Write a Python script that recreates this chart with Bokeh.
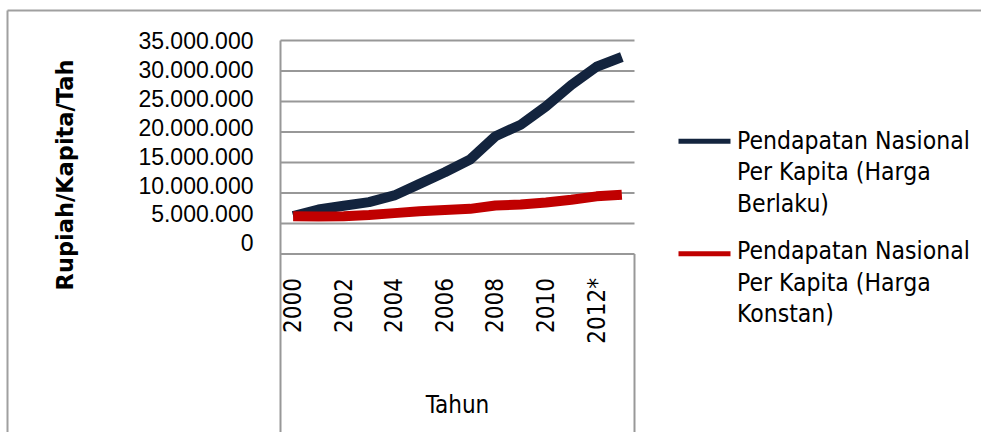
import math
from bokeh.plotting import figure
from bokeh.models import Range1d, LinearAxis, FixedTicker
from bokeh.core.properties import value
from bokeh.embed import file_html
from bokeh.resources import INLINE

# ---------------- data ----------------
years = ["2000", "2001", "2002", "2003", "2004", "2005", "2006",
         "2007", "2008", "2009", "2010", "2011", "2012*", "2013*"]
# Pendapatan Nasional per kapita, juta rupiah
harga_berlaku = [6.2, 7.3, 7.9, 8.5, 9.6, 11.5, 13.4, 15.5, 19.3, 21.2, 24.2, 27.7, 30.7, 32.3]
harga_konstan = [6.2, 6.15, 6.2, 6.4, 6.7, 7.0, 7.2, 7.4, 7.95, 8.1, 8.45, 8.9, 9.45, 9.7]
y_ticks = [0, 5000000, 10000000, 15000000, 20000000, 25000000, 30000000, 35000000]
y_tick_labels = ["0", "5.000.000", "10.000.000", "15.000.000", "20.000.000",
                 "25.000.000", "30.000.000", "35.000.000"]
series_labels = [["Pendapatan Nasional", "Per Kapita (Harga", "Berlaku)"],
                 ["Pendapatan Nasional", "Per Kapita (Harga", "Konstan)"]]
y_title = "Rupiah/Kapita/Tah"
x_title = "Tahun"
colors = ["#13243e", "#c00000"]

# ---------------- layout (image pixels) ----------------
OX, OY = 0, 0           # canvas origin in the picture
W, H = 981, 432
FL, FT = 280, 40        # plot-area left / top
ZERO_Y = 253.5          # y of value 0
PX_PER_M = 6.1          # px per 1 000 000
LAB_ZERO_Y = 242.3      # y of tick label "0"
LAB_PX_PER_M = 5.78
n = len(years)
PX_PER_CAT = 354.0 / n


def dx(px):
    return -0.5 + (px - FL) / PX_PER_CAT


def dy(py):
    return (ZERO_Y - py) / PX_PER_M * 1e6


def ly(py):
    return (LAB_ZERO_Y - py) / LAB_PX_PER_M * 1e6


p = figure(width=W, height=H, output_backend="svg", toolbar_location=None,
           x_range=Range1d(dx(OX), dx(OX + W)), y_range=Range1d(dy(OY + H), dy(OY)),
           x_axis_location=None, y_axis_location=None,
           min_border_left=0, min_border_top=0, min_border_right=0, min_border_bottom=0)
p.outline_line_color = None
for g in p.grid:
    g.visible = False
p.background_fill_color = "white"
p.border_fill_color = "white"

idx = list(range(n))
GRID = "#989898"
BORDER = "#a0a0a0"

# outer chart border (top / left)
p.segment(x0=[dx(7)], y0=[dy(10)], x1=[dx(OX + W)], y1=[dy(10)], line_color=BORDER, line_width=2)
p.segment(x0=[dx(7)], y0=[dy(10)], x1=[dx(7)], y1=[dy(OY + H)], line_color=BORDER, line_width=2)

# gridlines (plot area only)
p.segment(x0=[-0.5] * len(y_ticks), y0=y_ticks, x1=[n - 0.5] * len(y_ticks), y1=y_ticks,
          line_color=GRID, line_width=2)
# category-axis box right edge
p.segment(x0=[n - 0.5], y0=[dy(OY + H)], x1=[n - 0.5], y1=[0], line_color=GRID, line_width=2)

# series
p.line(idx, [v * 1e6 for v in harga_berlaku], line_color=colors[0], line_width=10,
       line_join="round", line_cap="butt")
p.line(idx, [v * 1e6 for v in harga_konstan], line_color=colors[1], line_width=10,
       line_join="round", line_cap="butt")

# y label axis (offset labels as in original), line from top of plot to bottom
p.extra_y_ranges = {"lab": Range1d(ly(OY + H), ly(OY))}
yaxis = LinearAxis(y_range_name="lab", fixed_location=-0.5,
                   bounds=(ly(OY + H), y_ticks[-1]),
                   ticker=FixedTicker(ticks=y_ticks, minor_ticks=[]),
                   major_label_overrides=dict(zip(y_ticks, y_tick_labels)),
                   axis_line_color=GRID, axis_line_width=2,
                   major_tick_line_color=None, minor_tick_line_color=None,
                   major_tick_out=0, major_tick_in=0, major_label_standoff=27,
                   major_label_text_font="Liberation Sans",
                   major_label_text_font_size="23px", major_label_text_color="black")
p.add_layout(yaxis, "left")

# x axis at value 0
shown = idx[::2]
xaxis = LinearAxis(fixed_location=0, ticker=FixedTicker(ticks=shown, minor_ticks=[]),
                   major_label_overrides={i: years[i] for i in shown},
                   major_label_orientation=math.pi / 2,
                   axis_line_color=None, major_tick_line_color=None,
                   minor_tick_line_color=None, major_tick_out=0, major_tick_in=0,
                   major_label_standoff=24,
                   major_label_text_font="DejaVu Sans Condensed",
                   major_label_text_font_size="24px", major_label_text_color="black")
p.add_layout(xaxis, "below")

# axis titles
p.text(x=[dx(64)], y=[dy(174.5)], text=[y_title], angle=math.pi / 2,
       text_align="center", text_baseline="middle",
       text_font=value("DejaVu Sans"), text_font_style="bold",
       text_font_size=value("22.5px"), text_color="black")
p.text(x=[(n - 1) / 2], y=[dy(404)], text=[x_title], text_align="center",
       text_baseline="middle", text_font=value("DejaVu Sans Condensed"),
       text_font_size=value("24px"), text_color="black")

# legend
sw_y = [140.7, 253.3]
row0 = [139.5, 250.0]   # vertical centre of first text row
for k in range(2):
    p.segment(x0=[dx(678)], y0=[dy(sw_y[k])], x1=[dx(730)], y1=[dy(sw_y[k])],
              line_color=colors[k], line_width=5)
    lines = series_labels[k]
    p.text(x=[dx(736.5)] * len(lines),
           y=[dy(row0[k] + 31.7 * j) for j in range(len(lines))],
           text=lines, text_align="left", text_baseline="middle",
           text_font=value("DejaVu Sans Condensed"), text_font_size=value("24.5px"),
           text_color="black")

open("out.html", "w").write(file_html(p, INLINE))
